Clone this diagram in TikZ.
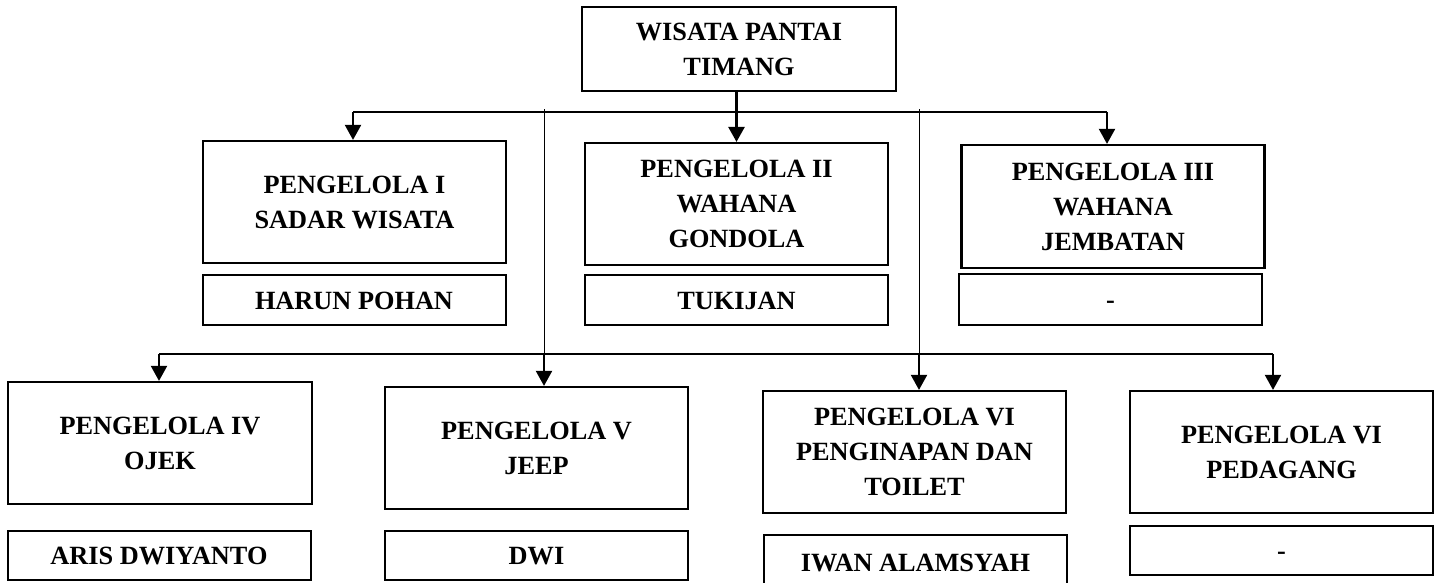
\documentclass[tikz,border=0pt]{standalone}
\usepackage{fontspec}
\setmainfont{Liberation Serif}
\usetikzlibrary{arrows.meta}
\begin{document}
\begin{tikzpicture}[x=1pt,y=-1pt,
  unit/.style={draw=black, line width=2.2pt, rectangle, inner sep=0pt,
    minimum width=303pt, minimum height=122pt, align=center,
    font=\fontsize{26.3}{35}\selectfont\bfseries},
  namebox/.style={draw=black, line width=2pt, rectangle, inner sep=0pt,
    minimum width=303pt, minimum height=50pt,
    text height=18pt, text depth=0pt,
    font=\fontsize{26.3}{35}\selectfont\bfseries},
  bus/.style={line width=1.3pt},
  tap/.style={line width=1pt},
  drop/.style={line width=2pt, -{Triangle[length=15pt,width=16pt]}},
  trunk/.style={drop, line width=2.6pt}]

% canvas
\fill[white] (0,0) rectangle (1438,582);
\useasboundingbox (0,0) rectangle (1438,582);

% head unit
\node[unit, minimum width=314pt, minimum height=84pt] (top) at (739,49) {WISATA PANTAI\\TIMANG};

% first row of units and their managers
\node[unit] (p1) at (354.5,202) {PENGELOLA I\\SADAR WISATA};
\node[namebox] (n1) at (354,300) {HARUN POHAN};
\node[unit] (p2) at (736.5,204) {PENGELOLA II\\WAHANA\\GONDOLA};
\node[namebox] (n2) at (736.5,300) {TUKIJAN};
\node[unit, minimum height=123pt] (p3) at (1113,206.5) {PENGELOLA III\\WAHANA\\JEMBATAN};
\node[namebox, minimum height=51pt] (n3) at (1110.5,299.5) {-};

% second row of units and their managers
\node[unit, minimum width=304pt] (p4) at (160,443) {PENGELOLA IV\\OJEK};
\node[namebox, minimum height=49pt] (n4) at (159,555.5) {ARIS DWIYANTO};
\node[unit] (p5) at (536.5,448) {PENGELOLA V\\JEEP};
\node[namebox, minimum height=49pt] (n5) at (536.5,555.5) {DWI};
\node[unit] (p6) at (914.5,452) {PENGELOLA VI\\PENGINAPAN DAN\\TOILET};
\node[namebox, minimum height=55pt] (n6) at (915.5,562.5) {IWAN ALAMSYAH};
\node[unit] (p7) at (1281.5,452) {PENGELOLA VI\\PEDAGANG};
\node[namebox, minimum height=49pt] (n7) at (1281.5,550.5) {-};

% bus junctions
\coordinate (bus1L) at (353,112);
\coordinate (bus1R) at (1107,112);
\coordinate (tapA) at (544,109);
\coordinate (tapB) at (919,109);
\coordinate (bus2L) at (159,354);
\coordinate (bus2R) at (1273,354);

% connectors
\draw[trunk] (p2.north |- top.south) -- (p2.north);
\draw[bus] (bus1L) -- (bus1R);
\draw[drop] (bus1L) -- (bus1L |- p1.north);
\draw[drop] (bus1R) -- (bus1R |- p3.north);
\draw[tap] (tapA) -- (tapA |- bus2L);
\draw[tap] (tapB) -- (tapB |- bus2L);
\draw[bus] (bus2L) -- (bus2R);
\draw[drop] (bus2L) -- (bus2L |- p4.north);
\draw[drop] (tapA |- bus2L) -- (tapA |- p5.north);
\draw[drop] (tapB |- bus2L) -- (tapB |- p6.north);
\draw[drop] (bus2R) -- (bus2R |- p7.north);
\end{tikzpicture}
\end{document}
